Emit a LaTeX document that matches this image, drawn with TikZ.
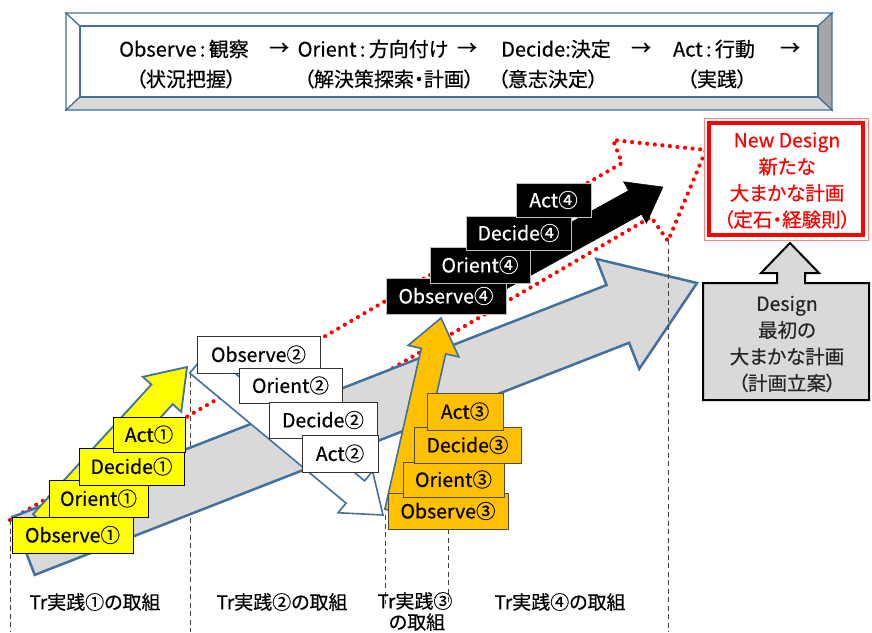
\documentclass[tikz,border=0pt]{standalone}
\usepackage{fontspec}
\setmainfont[RawFeature={+palt;embolden=0.5}]{Noto Sans CJK JP}
\usetikzlibrary{calc}
\definecolor{bord}{HTML}{41719C}
\definecolor{lgrey}{HTML}{D9D9D9}
\definecolor{orng}{HTML}{FFC000}
\definecolor{ylw}{HTML}{FFFF00}
\definecolor{dgrey}{HTML}{A6A6A6}
\definecolor{bgrey}{HTML}{BFBFBF}
\definecolor{pinkred}{HTML}{FF8080}
\newcommand\myfs[1]{\fontsize{#1}{#1}\selectfont}
\newcommand\myfsl[2]{\fontsize{#1}{#2}\selectfont}
\newcommand\fatarrow[6]{%
 \coordinate (fa-hb) at ($(#2)!#5!(#1)$);
 \path[#6] ($(#1)!#3!90:(#2)$) -- ($(fa-hb)!#3!90:(#2)$) -- ($(fa-hb)!#4!90:(#2)$) -- (#2)
   -- ($(fa-hb)!#4!-90:(#2)$) -- ($(fa-hb)!#3!-90:(#2)$) -- ($(#1)!#3!-90:(#2)$) -- cycle;}
\tikzset{
 boxbase/.style={rectangle, inner sep=0pt, line width=0.9pt, font=\myfs{19.5}},
 ybox/.style={boxbase, draw=black, fill=ylw},
 wbox/.style={boxbase, draw=black!80, fill=white},
 obox/.style={boxbase, draw=black!70, fill=orng},
 kbox/.style={boxbase, draw=bgrey, fill=black, text=white},
 reddots/.style={draw=red, line width=4.2pt, dash pattern=on 0pt off 7.6pt, line cap=round, line join=round},
 vdash/.style={draw=black!75, line width=1pt, dash pattern=on 5pt off 3.5pt},
 bevel/.style={draw=bord, line width=1.2pt},
 txt/.style={inner sep=0pt, font=\myfs{20}},
 lbl/.style={inner sep=0pt, font=\myfs{19}},
 multi/.style={inner sep=0pt, align=center, font=\myfsl{19.5}{26.5}},
}
\begin{document}
\begin{tikzpicture}[x=1pt,y=-1pt]
\useasboundingbox (0,0) rectangle (872,632);
\fill[white] (0,0) rectangle (872,632);

% ---- banner ----
\path[bevel, fill=white] (66,13) -- (80,26) -- (80,97) -- (66,110) -- cycle;
\path[bevel, fill=white] (66,13) -- (832,13) -- (818,26) -- (80,26) -- cycle;
\path[bevel, fill=dgrey] (832,13) -- (832,110) -- (818,97) -- (818,26) -- cycle;
\path[bevel, fill=lgrey] (66,110) -- (832,110) -- (818,97) -- (80,97) -- cycle;
\path[bevel, fill=white] (80,26) rectangle (818,97);
\node[txt] (t1) at (184,49) {Observe\,:\,観察};
\node[txt] (a1) at (279,49) {→};
\node[txt] (t2) at (373,49) {Orient\,:\,方向付け};
\node[txt] (a2) at (467,49) {→};
\node[txt] (t3) at (556,49) {Decide:決定};
\node[txt] (a3) at (641,49) {→};
\node[txt] (t4) at (714,49) {Act\,:\,行動};
\node[txt] (a4) at (790,49) {→};
\node[txt] (u1) at (186,79) {（状況把握）};
\node[txt] (u2) at (389,79) {（解決策探索・計画）};
\node[txt] (u3) at (548,79) {（意志決定）};
\node[txt] (u4) at (717,79) {（実践）};

% ---- red dotted outline arrow ----
\path[reddots] (10,520) -- (622,163) -- (613,140) -- (706,150) -- (668,241) -- (651,217) -- (330,405) -- cycle;

% ---- dashed separators (behind grey arrow) ----
\coordinate (d1a) at (10,520);  \coordinate (d1b) at (10,632);
\coordinate (d2a) at (190,373); \coordinate (d2b) at (190,632);
\path[vdash] (d1a) -- (d1b);
\path[vdash] (d2a) -- (d2b);

% ---- big grey arrow ----
\coordinate (gT) at (23.5,546); \coordinate (gH) at (697,283);
\fatarrow{gT}{gH}{31pt}{59pt}{85pt}{draw=bord, line width=2.5pt, fill=lgrey, line join=miter}

% ---- dashed separators (front) ----
\coordinate (d3a) at (385,515); \coordinate (d3b) at (385,604);
\coordinate (d4a) at (448,529); \coordinate (d4b) at (448,604);
\coordinate (d5a) at (668,240); \coordinate (d5b) at (668,632);
\path[vdash] (d3a) -- (d3b);
\path[vdash] (d4a) -- (d4b);
\path[vdash] (d5a) -- (d5b);

% ---- stage arrows ----
\coordinate (yT) at (43.7,524);  \coordinate (yH) at (187,367);
\fatarrow{yT}{yH}{14.5pt}{26pt}{37pt}{draw=bord, line width=1.8pt, fill=ylw}
\coordinate (wT) at (199,362); \coordinate (wH) at (383,515);
\fatarrow{wT}{wH}{14.5pt}{27pt}{36pt}{draw=bord, line width=1.6pt, fill=white}
\coordinate (oT) at (397,512); \coordinate (oH) at (441,318);
\fatarrow{oT}{oH}{12.5pt}{26pt}{34pt}{draw=bord, line width=1.6pt, fill=orng}
\coordinate (kT) at (480,288); \coordinate (kH) at (663,187);
\fatarrow{kT}{kH}{13.5pt}{23.7pt}{32pt}{draw=black, line width=0.5pt, fill=black}

% ---- yellow stack ----
\node[ybox, minimum width=121pt, minimum height=36pt] (obs1) at (72.5,535) {Observe①};
\node[ybox, minimum width=99pt, minimum height=37pt] (ori1) at (98.5,498.5) {Orient①};
\node[ybox, minimum width=105pt, minimum height=37pt] (dec1) at (131.5,466.5) {Decide①};
\node[ybox, minimum width=72pt, minimum height=35pt] (act1) at (149,434.5) {Act①};

% ---- white stack ----
\node[wbox, minimum width=123pt, minimum height=37pt] (obs2) at (258.5,354.5) {Observe②};
\node[wbox, minimum width=103pt, minimum height=35pt] (ori2) at (290.5,385.5) {Orient②};
\node[wbox, minimum width=108pt, minimum height=36pt] (dec2) at (323,420) {Decide②};
\node[wbox, minimum width=76pt, minimum height=37pt] (act2) at (340,453.5) {Act②};

% ---- orange stack ----
\node[obox, minimum width=120pt, minimum height=36pt] (obs3) at (448,511) {Observe③};
\node[obox, minimum width=101pt, minimum height=35pt] (ori3) at (453.5,479.5) {Orient③};
\node[obox, minimum width=107pt, minimum height=36pt] (dec3) at (467.5,445) {Decide③};
\node[obox, minimum width=76pt, minimum height=37pt] (act3) at (465,411.5) {Act③};

% ---- black stack ----
\node[kbox, minimum width=120pt, minimum height=36pt] (obs4) at (446,296) {Observe④};
\node[kbox, minimum width=100pt, minimum height=36pt] (ori4) at (480,265) {Orient④};
\node[kbox, minimum width=105pt, minimum height=34pt] (dec4) at (518.5,233) {Decide④};
\node[kbox, minimum width=75pt, minimum height=34pt] (act4) at (553.5,200) {Act④};

% ---- New Design box ----
\path[draw=pinkred, line width=1pt, fill=white] (704,118) rectangle (868,240);
\path[draw=red, line width=3.5pt] (709,123) rectangle (863,235);
\node[multi, text=red] (newd) at (787,180.5) {New Design\\新たな\\大まかな計画\\（定石・経験則）};

% ---- Design box with up arrow ----
\path[draw=black, line width=2pt, fill=lgrey] (703,283) -- (777,283) -- (777,273) -- (761,273) -- (790,243) -- (819,273) -- (805,273) -- (805,283) -- (869,283) -- (869,400) -- (703,400) -- cycle;
\node[multi, text=black!85] (des) at (787,344) {Design\\最初の\\大まかな計画\\（計画立案）};

% ---- bottom labels ----
\node[lbl] (l1) at (95,602) {Tr実践①の取組};
\node[lbl] (l2) at (282,602) {Tr実践②の取組};
\node[lbl] (l3) at (415,601) {Tr実践③};
\node[lbl] (l3b) at (417,622) {の取組};
\node[lbl] (l4) at (560,602) {Tr実践④の取組};
\end{tikzpicture}
\end{document}
